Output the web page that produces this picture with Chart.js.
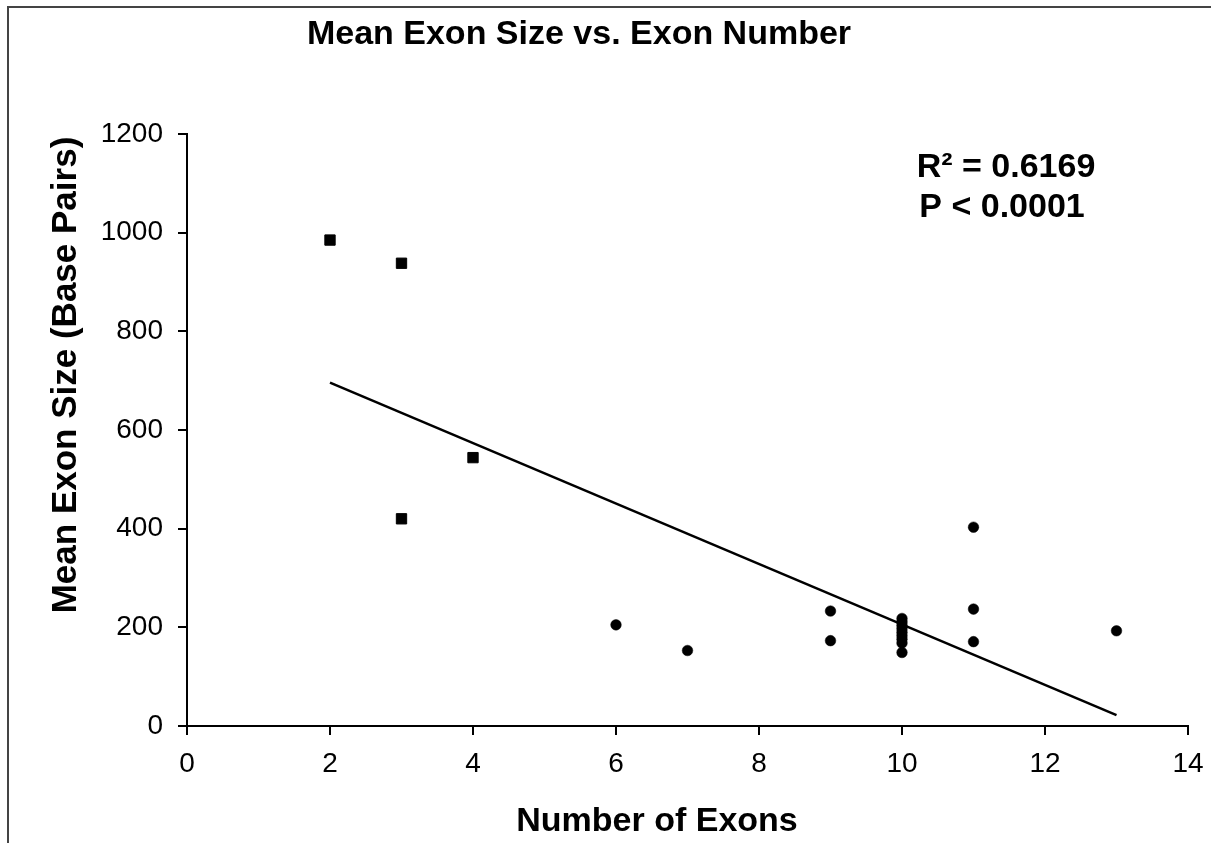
<!DOCTYPE html>
<html>
<head>
<meta charset="utf-8">
<script src="https://cdn.jsdelivr.net/npm/chart.js@4.4.1/dist/chart.umd.min.js"></script>
<style>
  html, body { margin: 0; padding: 0; background: #fff; }
  #wrap { width: 1211px; height: 843px; position: relative; }
</style>
</head>
<body>
<div id="wrap"><canvas id="chart" width="1211" height="843"></canvas></div>
<script>
// data
const fewExonsX = [2, 3, 3, 4];
const fewExonsY = [985, 938, 420, 544];

const manyExonsX = [6, 7, 9, 9, 10, 10, 10, 10, 10, 10, 10, 10, 10, 11, 11, 11, 13];
const manyExonsY = [205, 153, 233, 173, 218, 211, 204, 197, 190, 183, 176, 168, 149, 403, 237, 171, 193];

const trendX = [2, 13];
const trendY = [696, 22];

const xTicks = [0, 2, 4, 6, 8, 10, 12, 14];
const yTicks = [0, 200, 400, 600, 800, 1000, 1200];

const titleText = 'Mean Exon Size vs. Exon Number';
const xTitle = 'Number of Exons';
const yTitle = 'Mean Exon Size (Base Pairs)';
const statLines = ['R\u00B2 = 0.6169', 'P < 0.0001'];

const FONT = '"Liberation Sans", Arial, sans-serif';

function toPoints(xs, ys) {
  return xs.map((x, i) => ({ x: x, y: ys[i] }));
}

const textPlugin = {
  id: 'texts',
  afterDraw(chart) {
    const ctx = chart.ctx;
    ctx.save();
    // frame
    ctx.strokeStyle = '#444';
    ctx.lineWidth = 2;
    ctx.beginPath();
    ctx.moveTo(8, 843);
    ctx.lineTo(8, 7);
    ctx.lineTo(1211, 7);
    ctx.stroke();

    ctx.fillStyle = '#000';
    ctx.textAlign = 'center';
    ctx.textBaseline = 'middle';
    ctx.font = 'bold 34px ' + FONT;
    ctx.fillText(titleText, 579, 35);

    ctx.fillText(xTitle, 657, 822);

    ctx.save();
    ctx.translate(66, 375);
    ctx.rotate(-Math.PI / 2);
    ctx.font = 'bold 35px ' + FONT;
    ctx.fillText(yTitle, 0, 0);
    ctx.restore();

    ctx.fillText(statLines[0], 1006, 168);
    ctx.fillText(statLines[1], 1002, 208);
    ctx.restore();
  }
};

const ctx = document.getElementById('chart').getContext('2d');
const chart = new Chart(ctx, {
  data: {
    datasets: [
      {
        type: 'line',
        label: 'trend',
        data: toPoints(trendX, trendY),
        borderColor: '#000',
        borderWidth: 2.5,
        pointRadius: 0,
        fill: false
      },
      {
        type: 'scatter',
        label: 'few exons',
        data: toPoints(fewExonsX, fewExonsY),
        pointStyle: 'rect',
        pointRadius: 7.3,
        backgroundColor: '#000',
        borderColor: '#000',
        borderWidth: 1
      },
      {
        type: 'scatter',
        label: 'many exons',
        data: toPoints(manyExonsX, manyExonsY),
        pointStyle: 'circle',
        pointRadius: 5.3,
        backgroundColor: '#000',
        borderColor: '#000',
        borderWidth: 0.5
      }
    ]
  },
  options: {
    responsive: false,
    animation: false,
    devicePixelRatio: 1,
    layout: { padding: { left: 0, right: 23, top: 134, bottom: 0 } },
    plugins: {
      legend: { display: false },
      tooltip: { enabled: false }
    },
    scales: {
      x: {
        type: 'linear',
        min: 0,
        max: 14,
        afterBuildTicks(scale) { scale.ticks = xTicks.map(v => ({ value: v })); },
        afterFit(scale) {
          scale.height = 117;
          scale.paddingLeft = 0;
          scale.paddingRight = 0;
        },
        grid: { drawOnChartArea: false, tickLength: 9, color: '#000', lineWidth: 2 },
        border: { display: true, color: '#000', width: 2 },
        ticks: { color: '#000', font: { family: FONT, size: 28 }, padding: 12, callback: v => String(v) }
      },
      y: {
        type: 'linear',
        min: 0,
        max: 1200,
        afterBuildTicks(scale) { scale.ticks = yTicks.map(v => ({ value: v })); },
        afterFit(scale) {
          scale.width = 187;
          scale.paddingTop = 0;
          scale.paddingBottom = 0;
        },
        grid: { drawOnChartArea: false, tickLength: 9, color: '#000', lineWidth: 2 },
        border: { display: true, color: '#000', width: 2 },
        ticks: { color: '#000', font: { family: FONT, size: 28 }, padding: 15, callback: v => String(v) }
      }
    }
  },
  plugins: [textPlugin]
});
</script>
</body>
</html>
